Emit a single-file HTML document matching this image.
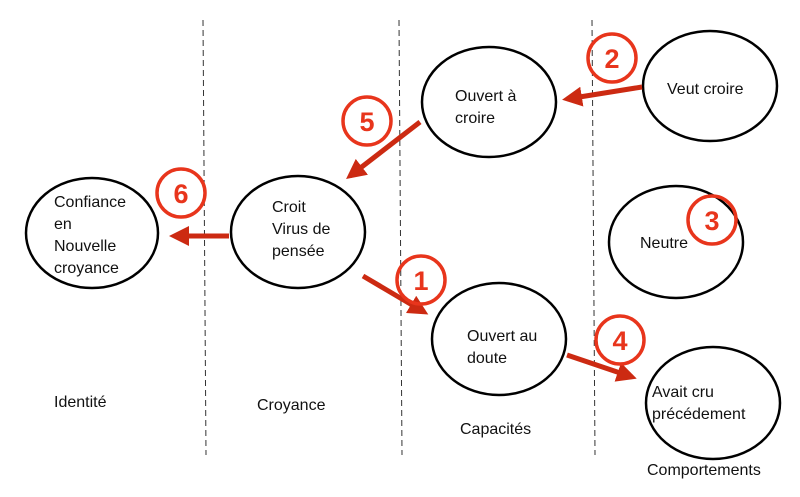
<!DOCTYPE html>
<html><head><meta charset="utf-8"><style>
body{margin:0;background:#fff}
svg{display:block}
text{font-family:"Liberation Sans",sans-serif;font-size:16px;fill:#111}
.c{font-size:27px;font-weight:bold;fill:#e8351c;text-anchor:middle}
</style></head><body>
<svg width="800" height="497" viewBox="0 0 800 497">
<defs><marker id="a" markerWidth="4" markerHeight="4" refX="3" refY="2" orient="auto"><path d="M0,0 L4,2 L0,4 z" fill="#cc2a12"/></marker></defs>
<g stroke="#333" stroke-width="1" stroke-dasharray="6,4">
<line x1="203" y1="20" x2="206" y2="455"/><line x1="399" y1="20" x2="402" y2="455"/><line x1="592" y1="20" x2="595" y2="455"/>
</g>
<g fill="none" stroke="#000" stroke-width="2.5">
<ellipse cx="92" cy="233" rx="66" ry="55"/>
<ellipse cx="298" cy="232" rx="67" ry="56"/>
<ellipse cx="489" cy="102" rx="67" ry="55"/>
<ellipse cx="710" cy="86" rx="67" ry="55"/>
<ellipse cx="676" cy="242" rx="67" ry="56"/>
<ellipse cx="499" cy="339" rx="67" ry="56"/>
<ellipse cx="713" cy="403" rx="67" ry="56"/>
</g>
<g stroke="#cc2a12" stroke-width="5" marker-end="url(#a)">
<line x1="229" y1="236" x2="174" y2="236"/>
<line x1="420" y1="122" x2="350" y2="176"/>
<line x1="642" y1="87" x2="567" y2="99"/>
<line x1="363" y1="276" x2="424" y2="312"/>
<line x1="567" y1="355" x2="632" y2="377"/>
</g>
<g fill="none" stroke="#e8351c" stroke-width="3.5">
<circle cx="181" cy="193" r="24"/><circle cx="367" cy="121" r="24"/><circle cx="612" cy="58" r="24"/>
<circle cx="712" cy="220" r="24"/><circle cx="421" cy="280" r="24"/><circle cx="620" cy="340" r="24"/>
</g>
<text class="c" x="181" y="203">6</text><text class="c" x="367" y="131">5</text><text class="c" x="612" y="68">2</text>
<text class="c" x="712" y="230">3</text><text class="c" x="421" y="290">1</text><text class="c" x="620" y="350">4</text>
<text x="54" y="207">Confiance</text><text x="54" y="229">en</text><text x="54" y="251">Nouvelle</text><text x="54" y="273">croyance</text>
<text x="272" y="212">Croit</text><text x="272" y="234">Virus de</text><text x="272" y="256">pensée</text>
<text x="455" y="101">Ouvert à</text><text x="455" y="123">croire</text>
<text x="667" y="94">Veut croire</text>
<text x="640" y="248">Neutre</text>
<text x="467" y="341">Ouvert au</text><text x="467" y="363">doute</text>
<text x="652" y="397">Avait cru</text><text x="652" y="419">précédement</text>
<text x="54" y="407">Identité</text><text x="257" y="410">Croyance</text><text x="460" y="434">Capacités</text><text x="647" y="475">Comportements</text>
</svg>
</body></html>
